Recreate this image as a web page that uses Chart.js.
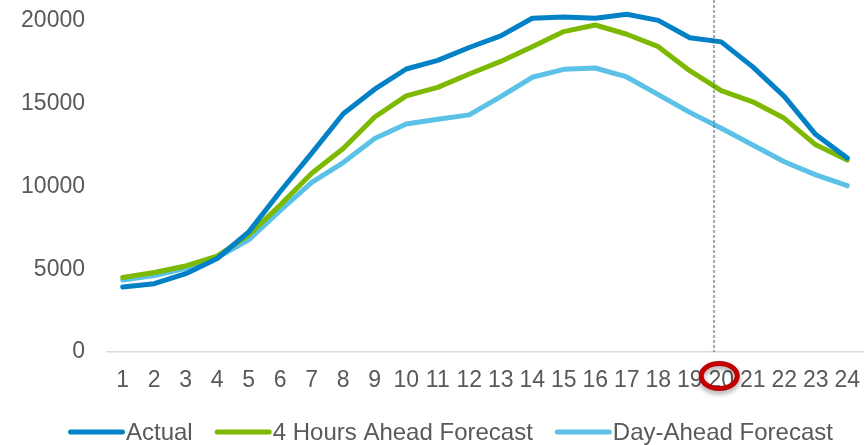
<!DOCTYPE html>
<html>
<head>
<meta charset="utf-8">
<script src="https://cdn.jsdelivr.net/npm/chart.js@4/dist/chart.umd.min.js"></script>
<style>
  html, body { margin: 0; padding: 0; background: #ffffff; }
  #wrap { width: 868px; height: 445px; position: relative; }
</style>
</head>
<body>
<div id="wrap"><canvas id="load"></canvas></div>
<script>
// Hourly load: actual vs. forecasts
const hours = ['1','2','3','4','5','6','7','8','9','10','11','12','13','14','15','16','17','18','19','20','21','22','23','24'];
const actual = [3930, 4130, 4730, 5650, 7260, 9700, 12020, 14400, 15880, 17100, 17620, 18400, 19100, 20170, 20250, 20170, 20410, 20040, 18990, 18740, 17230, 15450, 13140, 11720];
const fourHoursAhead = [4500, 4800, 5200, 5800, 7070, 8880, 10800, 12300, 14200, 15480, 15990, 16800, 17560, 18450, 19360, 19760, 19200, 18450, 17000, 15800, 15120, 14120, 12520, 11600];
const dayAhead = [4350, 4620, 5050, 5700, 6780, 8550, 10250, 11450, 12900, 13780, 14060, 14330, 15430, 16600, 17080, 17160, 16620, 15550, 14480, 13520, 12510, 11500, 10700, 10050];
const seriesNames = ['Actual', '4 Hours Ahead Forecast', 'Day-Ahead Forecast'];
const yTicks = [0, 5000, 10000, 15000, 20000];

// current-hour marker (hour position on the x axis) and highlighted hour label
const nowHour = 19.77;
const circledHour = '20';

const FONT = '"Liberation Sans", Arial, sans-serif';
const TEXT = '#595959';

// vertical dashed "now" line and red circle around the highlighted hour
const markerPlugin = {
  id: 'markers',
  afterDatasetsDraw(chart) {
    const { ctx, chartArea, scales } = chart;
    const x = scales.x.getPixelForValue(nowHour - 1);
    ctx.save();
    ctx.strokeStyle = '#555a60';
    ctx.lineWidth = 1;
    ctx.setLineDash([3, 2]);
    ctx.shadowColor = 'rgba(0,0,0,0.18)';
    ctx.shadowBlur = 4;
    ctx.beginPath();
    ctx.moveTo(x, 0);
    ctx.lineTo(x, chartArea.bottom);
    ctx.stroke();
    ctx.restore();
  },
  afterDraw(chart) {
    const { ctx, chartArea, scales } = chart;
    const idx = hours.indexOf(circledHour);
    const cx = scales.x.getPixelForValue(idx) - 2;
    const cy = chartArea.bottom + 24;
    ctx.save();
    ctx.strokeStyle = '#c00000';
    ctx.lineWidth = 5;
    ctx.shadowColor = 'rgba(0,0,0,0.35)';
    ctx.shadowBlur = 5;
    ctx.shadowOffsetY = 3;
    ctx.beginPath();
    ctx.ellipse(cx, cy, 18, 12.5, 0, 0, Math.PI * 2);
    ctx.stroke();
    ctx.restore();
  }
};

// bottom legend: line sample joined directly to its label
const lineLegendPlugin = {
  id: 'lineLegend',
  afterDraw(chart) {
    const { ctx } = chart;
    const y = 432;
    let x = 68;
    ctx.save();
    ctx.font = '24px ' + FONT;
    ctx.textBaseline = 'middle';
    ctx.textAlign = 'left';
    chart.data.datasets.forEach((ds) => {
      ctx.strokeStyle = ds.borderColor;
      ctx.lineWidth = 5;
      ctx.lineCap = 'round';
      ctx.beginPath();
      ctx.moveTo(x + 2.5, y);
      ctx.lineTo(x + 54.5, y);
      ctx.stroke();
      ctx.fillStyle = TEXT;
      ctx.fillText(ds.label, x + 58, y + 1);
      x += 58 + ctx.measureText(ds.label).width + 22;
    });
    ctx.restore();
  }
};

const lineStyle = {
  borderWidth: 5,
  pointRadius: 0,
  pointHoverRadius: 0,
  tension: 0,
  fill: false,
  borderCapStyle: 'round',
  borderJoinStyle: 'round'
};

new Chart(document.getElementById('load'), {
  type: 'line',
  data: {
    labels: hours,
    datasets: [
      Object.assign({ label: seriesNames[0], data: actual, borderColor: '#0281c6', backgroundColor: '#0281c6' }, lineStyle),
      Object.assign({ label: seriesNames[1], data: fourHoursAhead, borderColor: '#7db900', backgroundColor: '#7db900' }, lineStyle),
      Object.assign({ label: seriesNames[2], data: dayAhead, borderColor: '#5bc1e6', backgroundColor: '#5bc1e6' }, lineStyle)
    ]
  },
  options: {
    responsive: true,
    maintainAspectRatio: false,
    animation: false,
    layout: { padding: { left: 0, right: 5, top: 0, bottom: 0 } },
    plugins: {
      legend: { display: false },
      tooltip: { enabled: false }
    },
    scales: {
      x: {
        offset: true,
        grid: { display: false, drawTicks: false },
        border: { display: true, color: '#d9d9d9', width: 1.5 },
        ticks: {
          color: TEXT,
          font: { family: FONT, size: 23 },
          padding: 15,
          maxRotation: 0,
          autoSkip: false
        },
        afterFit(scale) {
          scale.height = 93;
          scale.paddingLeft = 0;
          scale.paddingRight = 0;
        }
      },
      y: {
        min: 0,
        max: 21270,
        grid: { display: false, drawTicks: false },
        border: { display: false },
        ticks: {
          color: TEXT,
          font: { family: FONT, size: 23 },
          padding: 22,
          callback: (v) => String(v)
        },
        afterBuildTicks(scale) { scale.ticks = yTicks.map(v => ({ value: v })); },
        afterFit(scale) {
          scale.width = 107;
          scale.paddingTop = 0;
          scale.paddingBottom = 0;
        }
      }
    }
  },
  plugins: [markerPlugin, lineLegendPlugin]
});
</script>
</body>
</html>
